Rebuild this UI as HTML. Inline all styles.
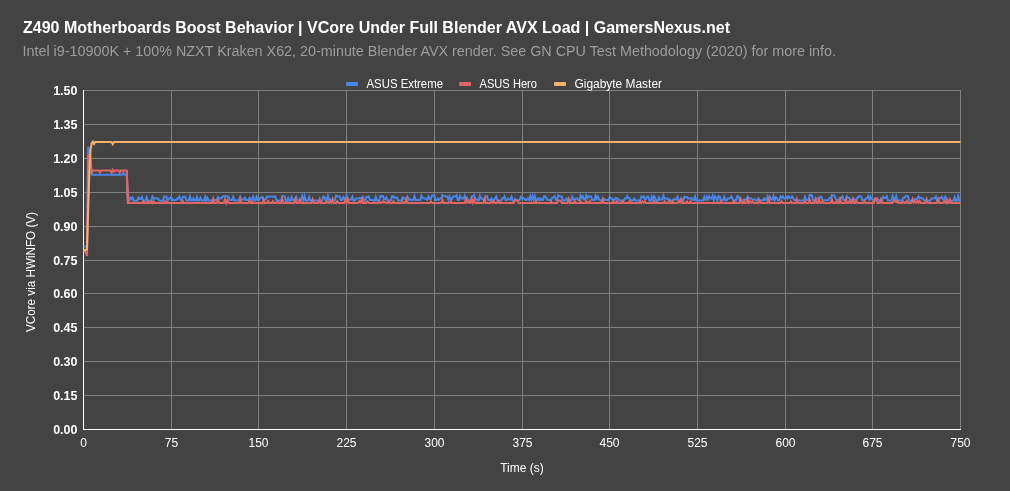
<!DOCTYPE html><html><head><meta charset="utf-8"><style>html,body{margin:0;padding:0;background:#434343;overflow:hidden}svg{display:block;will-change:transform}text{font-family:"Liberation Sans",sans-serif}</style></head><body><svg width="1010" height="491" viewBox="0 0 1010 491"><rect width="1010" height="491" fill="#434343"/><g stroke="#808080" stroke-width="1" shape-rendering="crispEdges"><line x1="83" y1="90.5" x2="961" y2="90.5"/><line x1="83" y1="124.5" x2="961" y2="124.5"/><line x1="83" y1="158.5" x2="961" y2="158.5"/><line x1="83" y1="192.5" x2="961" y2="192.5"/><line x1="83" y1="226.5" x2="961" y2="226.5"/><line x1="83" y1="260.5" x2="961" y2="260.5"/><line x1="83" y1="293.5" x2="961" y2="293.5"/><line x1="83" y1="327.5" x2="961" y2="327.5"/><line x1="83" y1="361.5" x2="961" y2="361.5"/><line x1="83" y1="395.5" x2="961" y2="395.5"/><line x1="171.5" y1="90" x2="171.5" y2="430"/><line x1="258.5" y1="90" x2="258.5" y2="430"/><line x1="346.5" y1="90" x2="346.5" y2="430"/><line x1="434.5" y1="90" x2="434.5" y2="430"/><line x1="522.5" y1="90" x2="522.5" y2="430"/><line x1="609.5" y1="90" x2="609.5" y2="430"/><line x1="697.5" y1="90" x2="697.5" y2="430"/><line x1="785.5" y1="90" x2="785.5" y2="430"/><line x1="872.5" y1="90" x2="872.5" y2="430"/><line x1="960.5" y1="90" x2="960.5" y2="430"/></g><g stroke="#ffffff" stroke-width="1" shape-rendering="crispEdges"><line x1="83.5" y1="90" x2="83.5" y2="430"/><line x1="83" y1="429.5" x2="961" y2="429.5"/></g><g font-size="12.5" font-weight="bold" fill="#ffffff" text-anchor="end"><text x="77.5" y="94.5">1.50</text><text x="77.5" y="128.5">1.35</text><text x="77.5" y="162.5">1.20</text><text x="77.5" y="196.5">1.05</text><text x="77.5" y="230.5">0.90</text><text x="77.5" y="264.5">0.75</text><text x="77.5" y="297.5">0.60</text><text x="77.5" y="331.5">0.45</text><text x="77.5" y="365.5">0.30</text><text x="77.5" y="399.5">0.15</text><text x="77.5" y="433.5">0.00</text></g><g font-size="12" fill="#ffffff" text-anchor="middle"><text x="83.5" y="447">0</text><text x="171.5" y="447">75</text><text x="258.5" y="447">150</text><text x="346.5" y="447">225</text><text x="434.5" y="447">300</text><text x="522.5" y="447">375</text><text x="609.5" y="447">450</text><text x="697.5" y="447">525</text><text x="785.5" y="447">600</text><text x="872.5" y="447">675</text><text x="960.5" y="447">750</text></g><text x="23" y="33" font-size="16" font-weight="bold" fill="#ffffff" textLength="707" lengthAdjust="spacingAndGlyphs">Z490 Motherboards Boost Behavior | VCore Under Full Blender AVX Load | GamersNexus.net</text><text x="22.5" y="56" font-size="14" fill="#9e9e9e" textLength="813.5" lengthAdjust="spacingAndGlyphs">Intel i9-10900K + 100% NZXT Kraken X62, 20-minute Blender AVX render. See GN CPU Test Methodology (2020) for more info.</text><rect x="346" y="82" width="12" height="4" rx="1" fill="#4a86e8"/><text x="366.5" y="88" font-size="12" fill="#ffffff" textLength="76.5" lengthAdjust="spacingAndGlyphs">ASUS Extreme</text><rect x="459" y="82" width="12" height="4" rx="1" fill="#e06666"/><text x="479.5" y="88" font-size="12" fill="#ffffff" textLength="57.5" lengthAdjust="spacingAndGlyphs">ASUS Hero</text><rect x="554" y="82" width="12" height="4" rx="1" fill="#f6b26b"/><text x="574.5" y="88" font-size="12" fill="#ffffff" textLength="87.5" lengthAdjust="spacingAndGlyphs">Gigabyte Master</text><text x="522" y="472" font-size="12" fill="#ffffff" text-anchor="middle">Time (s)</text><text transform="translate(35 272) rotate(-90)" x="0" y="0" font-size="12" fill="#ffffff" text-anchor="middle" textLength="120" lengthAdjust="spacingAndGlyphs">VCore via HWiNFO (V)</text><g><path d="M83.50,246.50 L84.67,246.50 L85.84,246.50 L87.01,246.00 L88.18,146.70 L89.35,151.00 L90.52,163.00 L91.69,174.80 L92.85,174.80 L94.02,174.80 L95.19,174.80 L96.36,174.80 L97.53,174.80 L98.70,174.80 L99.87,174.80 L101.04,174.80 L102.21,174.80 L103.38,174.80 L104.55,174.80 L105.72,174.80 L106.89,174.80 L108.06,174.80 L109.23,174.80 L110.39,174.80 L111.56,174.80 L112.73,174.80 L113.90,174.80 L115.07,174.80 L116.24,174.80 L117.41,174.80 L118.58,174.80 L119.75,174.80 L120.92,174.80 L122.09,174.80 L123.26,172.80 L124.43,174.80 L125.60,174.80 L126.77,174.80 L127.93,200.70 L129.10,200.70" fill="none" stroke="#4a86e8" stroke-width="2" stroke-linejoin="miter" stroke-miterlimit="4.0"/><path d="M126.77,174.80 L127.93,200.70 L129.10,200.70 L130.27,197.60 L131.44,199.10 L132.61,197.60 L133.78,200.70 L134.95,200.70 L136.12,200.70 L137.29,200.70 L138.46,197.55 L139.63,199.00 L140.80,199.00 L141.97,197.00 L143.14,200.70 L144.31,200.70 L145.47,200.70 L146.64,197.30 L147.81,200.70 L148.98,200.70 L150.15,200.70 L151.32,200.70 L152.49,196.55 L153.66,198.50 L154.83,198.50 L156.00,198.50 L157.17,198.50 L158.34,198.50 L159.51,200.87 L160.68,200.87 L161.85,200.87 L163.01,200.87 L164.18,196.42 L165.35,196.42 L166.52,196.42 L167.69,200.87 L168.86,198.40 L170.03,198.40 L171.20,196.75 L172.37,199.88 L173.54,199.88 L174.71,200.13 L175.88,200.13 L177.05,198.40 L178.22,198.40 L179.39,196.60 L180.55,199.88 L181.72,199.88 L182.89,196.66 L184.06,196.66 L185.23,196.66 L186.40,200.62 L187.57,200.62 L188.74,200.62 L189.91,196.17 L191.08,200.62 L192.25,200.62 L193.42,198.27 L194.59,200.62 L195.76,200.62 L196.93,196.83 L198.09,200.38 L199.26,200.38 L200.43,197.88 L201.60,200.38 L202.77,200.38 L203.94,200.38 L205.11,196.88 L206.28,200.87 L207.45,197.78 L208.62,200.38 L209.79,200.38 L210.96,200.38 L212.13,199.88 L213.30,199.88 L214.47,199.88 L215.63,199.88 L216.80,199.88 L217.97,196.95 L219.14,198.40 L220.31,198.40 L221.48,198.40 L222.65,196.17 L223.82,196.17 L224.99,196.17 L226.16,196.17 L227.33,196.42 L228.50,196.42 L229.67,199.88 L230.84,199.88 L232.01,199.88 L233.17,196.73 L234.34,200.38 L235.51,200.38 L236.68,200.38 L237.85,199.88 L239.02,199.88 L240.19,196.79 L241.36,199.39 L242.53,199.39 L243.70,199.39 L244.87,197.64 L246.04,199.88 L247.21,199.88 L248.38,199.88 L249.55,197.64 L250.71,199.39 L251.88,199.39 L253.05,196.64 L254.22,200.38 L255.39,200.38 L256.56,196.73 L257.73,199.88 L258.90,199.88 L260.07,197.90 L261.24,197.90 L262.41,197.00 L263.58,199.39 L264.75,199.39 L265.92,199.39 L267.09,196.36 L268.25,196.66 L269.42,196.66 L270.59,196.66 L271.76,196.21 L272.93,196.66 L274.10,196.66 L275.27,196.42 L276.44,200.38 L277.61,200.38 L278.78,200.38 L279.95,200.38 L281.12,200.38 L282.29,195.92 L283.46,196.17 L284.63,196.17 L285.79,201.12 L286.96,201.12 L288.13,197.87 L289.30,200.87 L290.47,200.87 L291.64,197.13 L292.81,199.88 L293.98,199.88 L295.15,199.88 L296.32,197.08 L297.49,200.38 L298.66,200.38 L299.83,200.38 L301.00,200.38 L302.17,196.18 L303.33,200.87 L304.50,196.18 L305.67,200.38 L306.84,200.38 L308.01,200.38 L309.18,196.98 L310.35,200.38 L311.52,200.38 L312.69,200.38 L313.86,200.38 L315.03,200.38 L316.20,200.38 L317.37,200.38 L318.54,200.87 L319.71,200.87 L320.87,200.87 L322.04,200.87 L323.21,196.66 L324.38,196.66 L325.55,199.88 L326.72,199.88 L327.89,195.83 L329.06,200.38 L330.23,199.33 L331.40,200.38 L332.57,200.38 L333.74,200.38 L334.91,200.38 L336.08,195.57 L337.25,196.42 L338.41,196.42 L339.58,196.37 L340.75,199.88 L341.92,199.88 L343.09,197.29 L344.26,199.39 L345.43,199.39 L346.60,195.49 L347.77,199.39 L348.94,199.39 L350.11,199.39 L351.28,199.39 L352.45,196.69 L353.62,200.87 L354.79,200.87 L355.95,198.40 L357.12,198.40 L358.29,198.40 L359.46,198.15 L360.63,198.15 L361.80,198.15 L362.97,196.95 L364.14,200.87 L365.31,200.87 L366.48,196.66 L367.65,196.66 L368.82,196.42 L369.99,199.88 L371.16,199.88 L372.33,199.73 L373.49,200.87 L374.66,200.87 L375.83,196.88 L377.00,200.38 L378.17,200.38 L379.34,200.38 L380.51,195.87 L381.68,195.92 L382.85,195.92 L384.02,199.39 L385.19,199.39 L386.36,197.54 L387.53,200.38 L388.70,200.38 L389.87,200.38 L391.03,200.38 L392.20,196.12 L393.37,196.17 L394.54,197.90 L395.71,197.90 L396.88,197.40 L398.05,200.38 L399.22,200.38 L400.39,200.38 L401.56,200.38 L402.73,197.39 L403.90,198.64 L405.07,198.64 L406.24,198.64 L407.41,196.64 L408.57,199.88 L409.74,198.83 L410.91,199.88 L412.08,199.88 L413.25,199.88 L414.42,195.98 L415.59,199.88 L416.76,199.88 L417.93,199.88 L419.10,199.88 L420.27,199.88 L421.44,195.65 L422.61,198.15 L423.78,198.15 L424.95,198.64 L426.11,198.64 L427.28,199.88 L428.45,196.49 L429.62,198.89 L430.79,198.89 L431.96,195.43 L433.13,195.43 L434.30,195.43 L435.47,199.88 L436.64,199.88 L437.81,198.48 L438.98,199.88 L440.15,198.40 L441.32,198.40 L442.49,195.12 L443.65,196.17 L444.82,196.17 L445.99,196.42 L447.16,196.42 L448.33,199.88 L449.50,196.59 L450.67,199.39 L451.84,199.39 L453.01,196.42 L454.18,196.42 L455.35,196.42 L456.52,195.22 L457.69,199.88 L458.86,199.88 L460.03,196.05 L461.19,198.40 L462.36,198.40 L463.53,198.40 L464.70,195.70 L465.87,199.88 L467.04,197.78 L468.21,200.38 L469.38,200.38 L470.55,200.38 L471.72,196.42 L472.89,196.42 L474.06,195.17 L475.23,198.89 L476.40,198.89 L477.57,200.38 L478.73,200.38 L479.90,195.75 L481.07,198.40 L482.24,198.40 L483.41,199.88 L484.58,199.88 L485.75,195.92 L486.92,196.17 L488.09,199.88 L489.26,199.88 L490.43,199.88 L491.60,198.48 L492.77,199.88 L493.94,199.88 L495.11,198.40 L496.27,196.65 L497.44,200.87 L498.61,200.87 L499.78,200.87 L500.95,200.87 L502.12,198.40 L503.29,198.40 L504.46,196.40 L505.63,199.88 L506.80,199.88 L507.97,198.39 L509.14,199.39 L510.31,199.39 L511.48,196.89 L512.65,200.87 L513.81,200.87 L514.98,198.93 L516.15,199.88 L517.32,199.88 L518.49,199.88 L519.66,199.88 L520.83,196.75 L522.00,198.40 L523.17,198.40 L524.34,198.40 L525.51,199.88 L526.68,199.88 L527.85,198.48 L529.02,199.88 L530.19,196.13 L531.35,199.88 L532.52,195.98 L533.69,199.88 L534.86,195.98 L536.03,199.88 L537.20,199.88 L538.37,198.53 L539.54,200.38 L540.71,198.53 L541.88,199.88 L543.05,199.88 L544.22,196.17 L545.39,196.17 L546.56,198.40 L547.73,199.88 L548.89,199.88 L550.06,199.88 L551.23,199.88 L552.40,197.41 L553.57,197.41 L554.74,196.16 L555.91,199.88 L557.08,199.88 L558.25,195.32 L559.42,196.17 L560.59,196.42 L561.76,196.42 L562.93,200.38 L564.10,200.38 L565.27,200.38 L566.43,198.58 L567.60,200.38 L568.77,200.38 L569.94,200.38 L571.11,200.38 L572.28,196.64 L573.45,199.39 L574.62,199.39 L575.79,198.40 L576.96,198.40 L578.13,199.88 L579.30,199.88 L580.47,195.40 L581.64,197.90 L582.81,196.25 L583.97,199.39 L585.14,199.39 L586.31,195.40 L587.48,197.90 L588.65,196.17 L589.82,196.42 L590.99,196.42 L592.16,199.88 L593.33,199.88 L594.50,199.88 L595.67,195.64 L596.84,198.89 L598.01,196.44 L599.18,199.39 L600.35,200.38 L601.51,200.38 L602.68,200.38 L603.85,198.88 L605.02,199.88 L606.19,199.88 L607.36,199.88 L608.53,199.88 L609.70,196.75 L610.87,198.40 L612.04,198.40 L613.21,199.88 L614.38,199.88 L615.55,198.15 L616.72,198.40 L617.89,198.40 L619.05,200.38 L620.22,200.38 L621.39,200.38 L622.56,200.38 L623.73,200.38 L624.90,198.40 L626.07,198.40 L627.24,196.05 L628.41,198.40 L629.58,198.10 L630.75,200.38 L631.92,200.38 L633.09,200.38 L634.26,198.43 L635.43,200.38 L636.59,200.38 L637.76,200.38 L638.93,200.38 L640.10,200.38 L641.27,196.56 L642.44,197.41 L643.61,196.31 L644.78,198.89 L645.95,198.89 L647.12,196.42 L648.29,196.42 L649.46,200.87 L650.63,200.87 L651.80,196.78 L652.97,199.88 L654.13,196.25 L655.30,198.40 L656.47,201.37 L657.64,201.37 L658.81,197.44 L659.98,199.39 L661.15,199.39 L662.32,199.39 L663.49,195.65 L664.66,198.40 L665.83,198.40 L667.00,198.40 L668.17,199.88 L669.34,199.28 L670.51,200.38 L671.67,200.38 L672.84,200.38 L674.01,198.84 L675.18,199.39 L676.35,199.39 L677.52,196.64 L678.69,200.38 L679.86,200.38 L681.03,200.38 L682.20,199.33 L683.37,200.38 L684.54,196.86 L685.71,196.91 L686.88,196.91 L688.05,198.40 L689.21,198.40 L690.38,198.40 L691.55,198.05 L692.72,199.88 L693.89,199.88 L695.06,196.38 L696.23,200.38 L697.40,200.38 L698.57,200.38 L699.74,200.38 L700.91,200.38 L702.08,200.38 L703.25,200.38 L704.42,196.84 L705.59,199.39 L706.75,196.54 L707.92,199.39 L709.09,196.35 L710.26,198.40 L711.43,198.40 L712.60,195.75 L713.77,200.38 L714.94,196.30 L716.11,197.90 L717.28,200.38 L718.45,196.17 L719.62,196.42 L720.79,199.88 L721.96,199.88 L723.13,199.88 L724.29,196.73 L725.46,200.38 L726.63,200.38 L727.80,198.40 L728.97,198.40 L730.14,197.90 L731.31,196.15 L732.48,198.40 L733.65,200.38 L734.82,200.38 L735.99,200.38 L737.16,196.17 L738.33,196.17 L739.50,200.38 L740.67,200.38 L741.83,200.38 L743.00,200.38 L744.17,199.39 L745.34,199.39 L746.51,199.39 L747.68,196.55 L748.85,198.40 L750.02,198.40 L751.19,198.40 L752.36,199.39 L753.53,199.39 L754.70,199.34 L755.87,200.38 L757.04,200.38 L758.21,198.43 L759.37,200.38 L760.54,200.38 L761.71,200.38 L762.88,200.38 L764.05,198.53 L765.22,199.88 L766.39,199.88 L767.56,196.53 L768.73,200.38 L769.90,196.84 L771.07,199.39 L772.24,199.39 L773.41,195.94 L774.58,200.38 L775.75,197.20 L776.91,197.90 L778.08,200.38 L779.25,200.38 L780.42,196.50 L781.59,197.90 L782.76,196.15 L783.93,198.40 L785.10,198.40 L786.27,197.00 L787.44,198.40 L788.61,196.35 L789.78,197.90 L790.95,197.90 L792.12,196.35 L793.29,198.40 L794.45,199.88 L795.62,199.88 L796.79,200.38 L797.96,200.38 L799.13,200.38 L800.30,200.38 L801.47,200.38 L802.64,200.38 L803.81,200.38 L804.98,196.73 L806.15,199.88 L807.32,199.88 L808.49,199.88 L809.66,195.13 L810.83,195.18 L811.99,195.18 L813.16,200.38 L814.33,200.38 L815.50,200.38 L816.67,198.40 L817.84,198.40 L819.01,198.40 L820.18,196.86 L821.35,196.91 L822.52,200.13 L823.69,200.13 L824.86,200.13 L826.03,200.13 L827.20,200.13 L828.37,200.13 L829.53,197.90 L830.70,197.90 L831.87,195.18 L833.04,195.43 L834.21,195.43 L835.38,197.90 L836.55,199.88 L837.72,199.88 L838.89,199.88 L840.06,197.90 L841.23,197.90 L842.40,196.45 L843.57,199.88 L844.74,199.88 L845.91,199.88 L847.07,196.30 L848.24,197.90 L849.41,197.90 L850.58,199.88 L851.75,199.88 L852.92,199.88 L854.09,199.03 L855.26,199.88 L856.43,199.88 L857.60,197.90 L858.77,196.17 L859.94,196.42 L861.11,196.42 L862.28,200.13 L863.45,200.13 L864.61,200.13 L865.78,198.40 L866.95,198.40 L868.12,196.00 L869.29,199.39 L870.46,196.54 L871.63,199.39 L872.80,199.39 L873.97,200.38 L875.14,200.38 L876.31,200.38 L877.48,198.58 L878.65,200.38 L879.82,200.38 L880.99,200.38 L882.15,200.38 L883.32,196.65 L884.49,197.90 L885.66,197.90 L886.83,196.30 L888.00,200.38 L889.17,200.38 L890.34,200.38 L891.51,200.38 L892.68,195.94 L893.85,199.39 L895.02,199.39 L896.19,196.14 L897.36,200.38 L898.53,200.38 L899.69,200.38 L900.86,200.38 L902.03,200.38 L903.20,197.90 L904.37,197.90 L905.54,196.17 L906.71,196.17 L907.88,196.17 L909.05,200.80 L910.22,200.80 L911.39,200.80 L912.56,200.50 L913.73,200.50 L914.90,198.90 L916.07,198.90 L917.23,198.90 L918.40,196.35 L919.57,198.00 L920.74,198.00 L921.91,198.30 L923.08,198.30 L924.25,200.80 L925.42,200.80 L926.59,200.80 L927.76,200.80 L928.93,200.80 L930.10,200.80 L931.27,198.60 L932.44,198.60 L933.61,198.30 L934.77,198.30 L935.94,196.55 L937.11,200.80 L938.28,200.80 L939.45,198.30 L940.62,198.30 L941.79,196.70 L942.96,199.40 L944.13,199.40 L945.30,196.45 L946.47,198.30 L947.64,200.30 L948.81,200.30 L949.98,200.80 L951.15,200.80 L952.31,200.80 L953.48,200.80 L954.65,197.05 L955.82,200.80 L956.99,200.80 L958.16,196.05 L959.33,200.80 L960.50,200.80" fill="none" stroke="#4a86e8" stroke-width="2" stroke-linejoin="miter" stroke-miterlimit="10.0"/><path d="M83.50,250.00 L84.67,251.00 L85.84,253.00 L87.01,256.00 L88.18,156.00 L89.35,155.00 L90.52,156.00 L91.69,173.50 L92.85,170.50 L94.02,170.50 L95.19,170.50 L96.36,170.50 L97.53,170.50 L98.70,170.50 L99.87,172.30 L101.04,170.50 L102.21,170.50 L103.38,170.50 L104.55,170.50 L105.72,170.50 L106.89,170.50 L108.06,170.50 L109.23,170.50 L110.39,170.50 L111.56,172.60 L112.73,169.80 L113.90,171.60 L115.07,170.50 L116.24,170.50 L117.41,170.50 L118.58,170.50 L119.75,172.60 L120.92,170.50 L122.09,170.50 L123.26,170.50 L124.43,170.50 L125.60,170.50 L126.77,170.50 L127.93,203.00 L129.10,203.00" fill="none" stroke="#e06666" stroke-width="2" stroke-linejoin="miter" stroke-miterlimit="4.0"/><path d="M126.77,170.50 L127.93,203.00 L129.10,203.00 L130.27,203.00 L131.44,203.00 L132.61,203.00 L133.78,203.00 L134.95,203.00 L136.12,203.00 L137.29,203.00 L138.46,203.00 L139.63,203.00 L140.80,203.00 L141.97,203.00 L143.14,201.35 L144.31,203.00 L145.47,203.00 L146.64,203.00 L147.81,201.35 L148.98,203.00 L150.15,203.00 L151.32,201.50 L152.49,203.05 L153.66,201.25 L154.83,203.00 L156.00,203.00 L157.17,203.00 L158.34,203.00 L159.51,203.00 L160.68,203.00 L161.85,203.00 L163.01,203.00 L164.18,203.00 L165.35,201.15 L166.52,203.00 L167.69,203.00 L168.86,203.00 L170.03,203.00 L171.20,203.00 L172.37,203.00 L173.54,203.00 L174.71,203.00 L175.88,203.00 L177.05,203.00 L178.22,203.00 L179.39,203.00 L180.55,203.00 L181.72,203.00 L182.89,201.15 L184.06,203.00 L185.23,203.00 L186.40,203.00 L187.57,203.00 L188.74,203.00 L189.91,203.00 L191.08,203.00 L192.25,203.00 L193.42,203.00 L194.59,203.00 L195.76,203.00 L196.93,203.00 L198.09,203.00 L199.26,203.00 L200.43,203.00 L201.60,203.00 L202.77,203.00 L203.94,203.00 L205.11,203.00 L206.28,203.00 L207.45,203.00 L208.62,203.00 L209.79,203.00 L210.96,203.00 L212.13,203.00 L213.30,198.70 L214.47,203.00 L215.63,203.00 L216.80,203.00 L217.97,200.20 L219.14,203.00 L220.31,203.00 L221.48,203.00 L222.65,203.00 L223.82,203.00 L224.99,199.10 L226.16,203.00 L227.33,200.35 L228.50,203.00 L229.67,203.00 L230.84,203.00 L232.01,203.00 L233.17,203.00 L234.34,203.00 L235.51,203.00 L236.68,203.00 L237.85,203.00 L239.02,203.00 L240.19,199.00 L241.36,203.00 L242.53,203.00 L243.70,203.00 L244.87,203.00 L246.04,203.00 L247.21,203.00 L248.38,203.00 L249.55,200.90 L250.71,202.75 L251.88,201.40 L253.05,203.00 L254.22,203.00 L255.39,203.00 L256.56,203.00 L257.73,203.00 L258.90,203.00 L260.07,203.00 L261.24,203.00 L262.41,203.40 L263.58,199.55 L264.75,203.00 L265.92,203.00 L267.09,203.00 L268.25,201.15 L269.42,203.00 L270.59,203.00 L271.76,203.00 L272.93,201.15 L274.10,203.00 L275.27,203.00 L276.44,203.00 L277.61,201.30 L278.78,203.00 L279.95,203.00 L281.12,203.00 L282.29,199.00 L283.46,203.00 L284.63,203.00 L285.79,203.00 L286.96,203.00 L288.13,203.00 L289.30,203.00 L290.47,203.00 L291.64,203.00 L292.81,203.00 L293.98,203.00 L295.15,199.15 L296.32,203.00 L297.49,203.00 L298.66,203.00 L299.83,199.75 L301.00,203.00 L302.17,203.00 L303.33,203.00 L304.50,203.00 L305.67,203.00 L306.84,203.00 L308.01,203.00 L309.18,203.00 L310.35,203.00 L311.52,203.00 L312.69,199.30 L313.86,203.00 L315.03,203.00 L316.20,203.00 L317.37,203.00 L318.54,203.00 L319.71,199.15 L320.87,203.00 L322.04,203.00 L323.21,203.00 L324.38,203.00 L325.55,203.00 L326.72,201.30 L327.89,203.00 L329.06,203.00 L330.23,201.45 L331.40,202.90 L332.57,199.15 L333.74,203.00 L334.91,203.00 L336.08,203.00 L337.25,201.30 L338.41,203.00 L339.58,203.00 L340.75,203.00 L341.92,203.00 L343.09,203.00 L344.26,203.00 L345.43,199.00 L346.60,202.55 L347.77,199.05 L348.94,203.00 L350.11,203.00 L351.28,203.00 L352.45,203.00 L353.62,203.00 L354.79,203.00 L355.95,203.00 L357.12,203.00 L358.29,203.00 L359.46,201.20 L360.63,202.50 L361.80,199.05 L362.97,203.00 L364.14,203.00 L365.31,203.00 L366.48,203.00 L367.65,201.45 L368.82,203.00 L369.99,203.00 L371.16,203.00 L372.33,203.00 L373.49,203.00 L374.66,203.00 L375.83,203.00 L377.00,203.00 L378.17,203.00 L379.34,201.30 L380.51,203.00 L381.68,203.00 L382.85,201.20 L384.02,202.60 L385.19,202.05 L386.36,203.00 L387.53,203.15 L388.70,201.35 L389.87,203.00 L391.03,203.00 L392.20,203.00 L393.37,201.30 L394.54,203.00 L395.71,203.00 L396.88,203.00 L398.05,203.00 L399.22,203.00 L400.39,203.00 L401.56,203.00 L402.73,201.80 L403.90,203.00 L405.07,203.05 L406.24,199.05 L407.41,203.00 L408.57,203.00 L409.74,203.00 L410.91,203.00 L412.08,203.00 L413.25,203.00 L414.42,203.00 L415.59,203.00 L416.76,203.00 L417.93,203.00 L419.10,203.00 L420.27,203.00 L421.44,203.00 L422.61,203.00 L423.78,203.00 L424.95,203.00 L426.11,203.00 L427.28,203.00 L428.45,203.00 L429.62,203.00 L430.79,201.30 L431.96,203.00 L433.13,203.00 L434.30,203.00 L435.47,203.00 L436.64,203.00 L437.81,203.00 L438.98,203.00 L440.15,203.00 L441.32,203.00 L442.49,199.75 L443.65,203.00 L444.82,203.00 L445.99,203.00 L447.16,203.00 L448.33,203.00 L449.50,203.00 L450.67,201.15 L451.84,203.00 L453.01,203.00 L454.18,203.00 L455.35,203.00 L456.52,203.00 L457.69,203.00 L458.86,203.00 L460.03,203.00 L461.19,203.00 L462.36,203.00 L463.53,203.00 L464.70,203.00 L465.87,198.79 L467.04,202.39 L468.21,201.04 L469.38,203.00 L470.55,203.00 L471.72,198.90 L472.89,202.70 L474.06,199.85 L475.23,203.00 L476.40,203.00 L477.57,203.00 L478.73,203.00 L479.90,203.00 L481.07,203.00 L482.24,203.00 L483.41,203.00 L484.58,198.85 L485.75,203.00 L486.92,203.00 L488.09,203.00 L489.26,203.00 L490.43,203.00 L491.60,200.90 L492.77,202.70 L493.94,201.25 L495.11,203.00 L496.27,203.00 L497.44,203.00 L498.61,201.00 L499.78,203.00 L500.95,203.00 L502.12,203.00 L503.29,203.00 L504.46,203.00 L505.63,203.00 L506.80,203.00 L507.97,203.00 L509.14,203.00 L510.31,203.00 L511.48,203.00 L512.65,203.00 L513.81,203.00 L514.98,200.38 L516.15,200.38 L517.32,200.38 L518.49,203.00 L519.66,203.00 L520.83,203.00 L522.00,203.00 L523.17,203.00 L524.34,203.00 L525.51,203.00 L526.68,203.00 L527.85,203.00 L529.02,203.00 L530.19,203.00 L531.35,203.00 L532.52,203.00 L533.69,203.00 L534.86,203.00 L536.03,201.45 L537.20,203.00 L538.37,203.00 L539.54,203.00 L540.71,203.00 L541.88,203.00 L543.05,203.00 L544.22,203.00 L545.39,203.00 L546.56,203.00 L547.73,203.00 L548.89,203.00 L550.06,203.00 L551.23,201.45 L552.40,203.00 L553.57,203.00 L554.74,203.00 L555.91,203.00 L557.08,203.00 L558.25,200.62 L559.42,200.62 L560.59,200.62 L561.76,203.00 L562.93,203.00 L564.10,203.00 L565.27,203.00 L566.43,203.00 L567.60,203.00 L568.77,199.00 L569.94,203.00 L571.11,203.00 L572.28,203.00 L573.45,203.00 L574.62,201.15 L575.79,203.00 L576.96,203.00 L578.13,203.00 L579.30,203.00 L580.47,201.15 L581.64,203.00 L582.81,203.00 L583.97,203.00 L585.14,203.00 L586.31,201.15 L587.48,203.00 L588.65,203.00 L589.82,201.15 L590.99,203.00 L592.16,203.00 L593.33,203.00 L594.50,203.00 L595.67,203.00 L596.84,203.00 L598.01,203.00 L599.18,203.00 L600.35,203.00 L601.51,203.00 L602.68,199.00 L603.85,203.00 L605.02,203.00 L606.19,203.00 L607.36,203.00 L608.53,203.00 L609.70,203.00 L610.87,203.00 L612.04,203.00 L613.21,201.30 L614.38,203.00 L615.55,203.00 L616.72,201.15 L617.89,203.00 L619.05,203.00 L620.22,203.00 L621.39,203.00 L622.56,201.15 L623.73,203.00 L624.90,203.00 L626.07,203.00 L627.24,203.00 L628.41,203.00 L629.58,201.15 L630.75,203.00 L631.92,203.00 L633.09,203.00 L634.26,203.00 L635.43,203.00 L636.59,203.00 L637.76,203.00 L638.93,203.00 L640.10,201.40 L641.27,202.85 L642.44,201.40 L643.61,202.80 L644.78,201.45 L645.95,203.00 L647.12,203.00 L648.29,203.00 L649.46,203.00 L650.63,203.00 L651.80,203.00 L652.97,203.00 L654.13,201.30 L655.30,203.00 L656.47,203.00 L657.64,203.00 L658.81,203.00 L659.98,203.00 L661.15,203.00 L662.32,203.00 L663.49,203.00 L664.66,201.30 L665.83,203.00 L667.00,203.00 L668.17,203.00 L669.34,201.30 L670.51,203.00 L671.67,203.00 L672.84,201.45 L674.01,203.00 L675.18,203.00 L676.35,203.00 L677.52,203.00 L678.69,201.20 L679.86,202.50 L681.03,199.05 L682.20,203.00 L683.37,203.00 L684.54,203.00 L685.71,203.00 L686.88,201.45 L688.05,203.05 L689.21,203.00 L690.38,201.65 L691.55,203.00 L692.72,203.00 L693.89,203.00 L695.06,203.00 L696.23,203.00 L697.40,203.00 L698.57,203.00 L699.74,203.00 L700.91,203.00 L702.08,203.00 L703.25,203.00 L704.42,203.00 L705.59,203.00 L706.75,203.00 L707.92,203.00 L709.09,203.00 L710.26,203.00 L711.43,203.00 L712.60,203.00 L713.77,203.00 L714.94,203.00 L716.11,203.00 L717.28,203.00 L718.45,203.00 L719.62,203.00 L720.79,201.15 L721.96,203.00 L723.13,203.00 L724.29,203.00 L725.46,203.00 L726.63,203.00 L727.80,203.00 L728.97,203.00 L730.14,203.00 L731.31,203.00 L732.48,203.00 L733.65,201.15 L734.82,203.00 L735.99,203.00 L737.16,203.00 L738.33,203.00 L739.50,203.00 L740.67,199.00 L741.83,203.00 L743.00,203.00 L744.17,201.30 L745.34,203.00 L746.51,203.00 L747.68,198.93 L748.85,202.88 L750.02,201.38 L751.19,202.78 L752.36,201.28 L753.53,203.00 L754.70,203.00 L755.87,203.00 L757.04,203.00 L758.21,203.00 L759.37,200.20 L760.54,203.00 L761.71,203.00 L762.88,203.00 L764.05,203.00 L765.22,203.00 L766.39,203.00 L767.56,203.00 L768.73,199.15 L769.90,203.00 L771.07,203.00 L772.24,203.00 L773.41,203.00 L774.58,203.00 L775.75,203.00 L776.91,203.00 L778.08,203.00 L779.25,203.00 L780.42,203.00 L781.59,201.30 L782.76,203.00 L783.93,203.00 L785.10,203.00 L786.27,203.00 L787.44,203.00 L788.61,203.00 L789.78,203.00 L790.95,201.45 L792.12,203.00 L793.29,203.00 L794.45,203.00 L795.62,203.00 L796.79,199.00 L797.96,203.00 L799.13,203.00 L800.30,203.00 L801.47,203.00 L802.64,203.00 L803.81,203.00 L804.98,201.45 L806.15,203.00 L807.32,203.00 L808.49,203.00 L809.66,199.45 L810.83,203.00 L811.99,203.00 L813.16,203.00 L814.33,203.00 L815.50,199.15 L816.67,203.00 L817.84,203.00 L819.01,199.15 L820.18,203.00 L821.35,203.00 L822.52,201.30 L823.69,203.00 L824.86,203.00 L826.03,203.00 L827.20,203.00 L828.37,203.00 L829.53,203.00 L830.70,203.00 L831.87,199.00 L833.04,203.00 L834.21,203.00 L835.38,203.00 L836.55,201.15 L837.72,203.00 L838.89,203.00 L840.06,199.00 L841.23,203.00 L842.40,203.00 L843.57,203.00 L844.74,203.00 L845.91,199.15 L847.07,203.00 L848.24,203.00 L849.41,201.15 L850.58,203.00 L851.75,203.00 L852.92,199.00 L854.09,203.00 L855.26,203.00 L856.43,201.15 L857.60,203.00 L858.77,203.00 L859.94,203.00 L861.11,203.00 L862.28,203.00 L863.45,203.00 L864.61,201.30 L865.78,203.00 L866.95,203.00 L868.12,203.00 L869.29,203.00 L870.46,203.00 L871.63,203.00 L872.80,203.00 L873.97,203.00 L875.14,198.35 L876.31,198.40 L877.48,203.00 L878.65,203.00 L879.82,203.00 L880.99,199.15 L882.15,203.00 L883.32,203.00 L884.49,203.00 L885.66,203.00 L886.83,203.00 L888.00,203.00 L889.17,203.00 L890.34,203.00 L891.51,203.00 L892.68,203.00 L893.85,200.62 L895.02,200.62 L896.19,202.32 L897.36,201.17 L898.53,203.00 L899.69,203.00 L900.86,203.00 L902.03,203.00 L903.20,201.45 L904.37,203.00 L905.54,203.00 L906.71,201.15 L907.88,203.00 L909.05,203.00 L910.22,203.00 L911.39,203.00 L912.56,199.00 L913.73,202.50 L914.90,201.15 L916.07,202.60 L917.23,201.00 L918.40,202.65 L919.57,200.95 L920.74,203.00 L921.91,203.00 L923.08,203.00 L924.25,203.00 L925.42,203.00 L926.59,199.20 L927.76,203.00 L928.93,203.00 L930.10,203.00 L931.27,203.00 L932.44,203.00 L933.61,203.00 L934.77,203.00 L935.94,203.00 L937.11,203.00 L938.28,199.20 L939.45,203.00 L940.62,203.00 L941.79,203.00 L942.96,203.00 L944.13,201.30 L945.30,202.75 L946.47,199.65 L947.64,203.25 L948.81,203.00 L949.98,199.65 L951.15,203.00 L952.31,203.00 L953.48,203.00 L954.65,203.00 L955.82,203.00 L956.99,203.00 L958.16,203.00 L959.33,203.00 L960.50,203.00" fill="none" stroke="#e06666" stroke-width="2" stroke-linejoin="miter" stroke-miterlimit="10.0"/><path d="M83.50,251.00 L84.67,250.00 L85.84,250.00 L87.01,249.00 L88.18,210.00 L89.35,172.00 L90.52,150.00 L91.69,143.00 L92.85,141.80 L94.02,144.00 L95.19,142.00 L96.36,142.00 L97.53,142.00 L98.70,142.00 L99.87,142.00 L101.04,142.00 L102.21,142.00 L103.38,142.00 L104.55,142.00 L105.72,142.00 L106.89,142.00 L108.06,142.00 L109.23,142.00 L110.39,142.00 L111.56,142.00 L112.73,144.20 L113.90,142.00 L115.07,142.00 L116.24,142.00 L117.41,142.00 L118.58,142.00 L119.75,142.00 L120.92,142.00 L122.09,142.00 L123.26,142.00 L124.43,142.00 L125.60,142.00 L126.77,142.00 L127.93,142.00 L129.10,142.00" fill="none" stroke="#f6b26b" stroke-width="2" stroke-linejoin="miter" stroke-miterlimit="4.0"/><path d="M126.77,142.00 L127.93,142.00 L129.10,142.00 L130.27,142.00 L131.44,142.00 L132.61,142.00 L133.78,142.00 L134.95,142.00 L136.12,142.00 L137.29,142.00 L138.46,142.00 L139.63,142.00 L140.80,142.00 L141.97,142.00 L143.14,142.00 L144.31,142.00 L145.47,142.00 L146.64,142.00 L147.81,142.00 L148.98,142.00 L150.15,142.00 L151.32,142.00 L152.49,142.00 L153.66,142.00 L154.83,142.00 L156.00,142.00 L157.17,142.00 L158.34,142.00 L159.51,142.00 L160.68,142.00 L161.85,142.00 L163.01,142.00 L164.18,142.00 L165.35,142.00 L166.52,142.00 L167.69,142.00 L168.86,142.00 L170.03,142.00 L171.20,142.00 L172.37,142.00 L173.54,142.00 L174.71,142.00 L175.88,142.00 L177.05,142.00 L178.22,142.00 L179.39,142.00 L180.55,142.00 L181.72,142.00 L182.89,142.00 L184.06,142.00 L185.23,142.00 L186.40,142.00 L187.57,142.00 L188.74,142.00 L189.91,142.00 L191.08,142.00 L192.25,142.00 L193.42,142.00 L194.59,142.00 L195.76,142.00 L196.93,142.00 L198.09,142.00 L199.26,142.00 L200.43,142.00 L201.60,142.00 L202.77,142.00 L203.94,142.00 L205.11,142.00 L206.28,142.00 L207.45,142.00 L208.62,142.00 L209.79,142.00 L210.96,142.00 L212.13,142.00 L213.30,142.00 L214.47,142.00 L215.63,142.00 L216.80,142.00 L217.97,142.00 L219.14,142.00 L220.31,142.00 L221.48,142.00 L222.65,142.00 L223.82,142.00 L224.99,142.00 L226.16,142.00 L227.33,142.00 L228.50,142.00 L229.67,142.00 L230.84,142.00 L232.01,142.00 L233.17,142.00 L234.34,142.00 L235.51,142.00 L236.68,142.00 L237.85,142.00 L239.02,142.00 L240.19,142.00 L241.36,142.00 L242.53,142.00 L243.70,142.00 L244.87,142.00 L246.04,142.00 L247.21,142.00 L248.38,142.00 L249.55,142.00 L250.71,142.00 L251.88,142.00 L253.05,142.00 L254.22,142.00 L255.39,142.00 L256.56,142.00 L257.73,142.00 L258.90,142.00 L260.07,142.00 L261.24,142.00 L262.41,142.00 L263.58,142.00 L264.75,142.00 L265.92,142.00 L267.09,142.00 L268.25,142.00 L269.42,142.00 L270.59,142.00 L271.76,142.00 L272.93,142.00 L274.10,142.00 L275.27,142.00 L276.44,142.00 L277.61,142.00 L278.78,142.00 L279.95,142.00 L281.12,142.00 L282.29,142.00 L283.46,142.00 L284.63,142.00 L285.79,142.00 L286.96,142.00 L288.13,142.00 L289.30,142.00 L290.47,142.00 L291.64,142.00 L292.81,142.00 L293.98,142.00 L295.15,142.00 L296.32,142.00 L297.49,142.00 L298.66,142.00 L299.83,142.00 L301.00,142.00 L302.17,142.00 L303.33,142.00 L304.50,142.00 L305.67,142.00 L306.84,142.00 L308.01,142.00 L309.18,142.00 L310.35,142.00 L311.52,142.00 L312.69,142.00 L313.86,142.00 L315.03,142.00 L316.20,142.00 L317.37,142.00 L318.54,142.00 L319.71,142.00 L320.87,142.00 L322.04,142.00 L323.21,142.00 L324.38,142.00 L325.55,142.00 L326.72,142.00 L327.89,142.00 L329.06,142.00 L330.23,142.00 L331.40,142.00 L332.57,142.00 L333.74,142.00 L334.91,142.00 L336.08,142.00 L337.25,142.00 L338.41,142.00 L339.58,142.00 L340.75,142.00 L341.92,142.00 L343.09,142.00 L344.26,142.00 L345.43,142.00 L346.60,142.00 L347.77,142.00 L348.94,142.00 L350.11,142.00 L351.28,142.00 L352.45,142.00 L353.62,142.00 L354.79,142.00 L355.95,142.00 L357.12,142.00 L358.29,142.00 L359.46,142.00 L360.63,142.00 L361.80,142.00 L362.97,142.00 L364.14,142.00 L365.31,142.00 L366.48,142.00 L367.65,142.00 L368.82,142.00 L369.99,142.00 L371.16,142.00 L372.33,142.00 L373.49,142.00 L374.66,142.00 L375.83,142.00 L377.00,142.00 L378.17,142.00 L379.34,142.00 L380.51,142.00 L381.68,142.00 L382.85,142.00 L384.02,142.00 L385.19,142.00 L386.36,142.00 L387.53,142.00 L388.70,142.00 L389.87,142.00 L391.03,142.00 L392.20,142.00 L393.37,142.00 L394.54,142.00 L395.71,142.00 L396.88,142.00 L398.05,142.00 L399.22,142.00 L400.39,142.00 L401.56,142.00 L402.73,142.00 L403.90,142.00 L405.07,142.00 L406.24,142.00 L407.41,142.00 L408.57,142.00 L409.74,142.00 L410.91,142.00 L412.08,142.00 L413.25,142.00 L414.42,142.00 L415.59,142.00 L416.76,142.00 L417.93,142.00 L419.10,142.00 L420.27,142.00 L421.44,142.00 L422.61,142.00 L423.78,142.00 L424.95,142.00 L426.11,142.00 L427.28,142.00 L428.45,142.00 L429.62,142.00 L430.79,142.00 L431.96,142.00 L433.13,142.00 L434.30,142.00 L435.47,142.00 L436.64,142.00 L437.81,142.00 L438.98,142.00 L440.15,142.00 L441.32,142.00 L442.49,142.00 L443.65,142.00 L444.82,142.00 L445.99,142.00 L447.16,142.00 L448.33,142.00 L449.50,142.00 L450.67,142.00 L451.84,142.00 L453.01,142.00 L454.18,142.00 L455.35,142.00 L456.52,142.00 L457.69,142.00 L458.86,142.00 L460.03,142.00 L461.19,142.00 L462.36,142.00 L463.53,142.00 L464.70,142.00 L465.87,142.00 L467.04,142.00 L468.21,142.00 L469.38,142.00 L470.55,142.00 L471.72,142.00 L472.89,142.00 L474.06,142.00 L475.23,142.00 L476.40,142.00 L477.57,142.00 L478.73,142.00 L479.90,142.00 L481.07,142.00 L482.24,142.00 L483.41,142.00 L484.58,142.00 L485.75,142.00 L486.92,142.00 L488.09,142.00 L489.26,142.00 L490.43,142.00 L491.60,142.00 L492.77,142.00 L493.94,142.00 L495.11,142.00 L496.27,142.00 L497.44,142.00 L498.61,142.00 L499.78,142.00 L500.95,142.00 L502.12,142.00 L503.29,142.00 L504.46,142.00 L505.63,142.00 L506.80,142.00 L507.97,142.00 L509.14,142.00 L510.31,142.00 L511.48,142.00 L512.65,142.00 L513.81,142.00 L514.98,142.00 L516.15,142.00 L517.32,142.00 L518.49,142.00 L519.66,142.00 L520.83,142.00 L522.00,142.00 L523.17,142.00 L524.34,142.00 L525.51,142.00 L526.68,142.00 L527.85,142.00 L529.02,142.00 L530.19,142.00 L531.35,142.00 L532.52,142.00 L533.69,142.00 L534.86,142.00 L536.03,142.00 L537.20,142.00 L538.37,142.00 L539.54,142.00 L540.71,142.00 L541.88,142.00 L543.05,142.00 L544.22,142.00 L545.39,142.00 L546.56,142.00 L547.73,142.00 L548.89,142.00 L550.06,142.00 L551.23,142.00 L552.40,142.00 L553.57,142.00 L554.74,142.00 L555.91,142.00 L557.08,142.00 L558.25,142.00 L559.42,142.00 L560.59,142.00 L561.76,142.00 L562.93,142.00 L564.10,142.00 L565.27,142.00 L566.43,142.00 L567.60,142.00 L568.77,142.00 L569.94,142.00 L571.11,142.00 L572.28,142.00 L573.45,142.00 L574.62,142.00 L575.79,142.00 L576.96,142.00 L578.13,142.00 L579.30,142.00 L580.47,142.00 L581.64,142.00 L582.81,142.00 L583.97,142.00 L585.14,142.00 L586.31,142.00 L587.48,142.00 L588.65,142.00 L589.82,142.00 L590.99,142.00 L592.16,142.00 L593.33,142.00 L594.50,142.00 L595.67,142.00 L596.84,142.00 L598.01,142.00 L599.18,142.00 L600.35,142.00 L601.51,142.00 L602.68,142.00 L603.85,142.00 L605.02,142.00 L606.19,142.00 L607.36,142.00 L608.53,142.00 L609.70,142.00 L610.87,142.00 L612.04,142.00 L613.21,142.00 L614.38,142.00 L615.55,142.00 L616.72,142.00 L617.89,142.00 L619.05,142.00 L620.22,142.00 L621.39,142.00 L622.56,142.00 L623.73,142.00 L624.90,142.00 L626.07,142.00 L627.24,142.00 L628.41,142.00 L629.58,142.00 L630.75,142.00 L631.92,142.00 L633.09,142.00 L634.26,142.00 L635.43,142.00 L636.59,142.00 L637.76,142.00 L638.93,142.00 L640.10,142.00 L641.27,142.00 L642.44,142.00 L643.61,142.00 L644.78,142.00 L645.95,142.00 L647.12,142.00 L648.29,142.00 L649.46,142.00 L650.63,142.00 L651.80,142.00 L652.97,142.00 L654.13,142.00 L655.30,142.00 L656.47,142.00 L657.64,142.00 L658.81,142.00 L659.98,142.00 L661.15,142.00 L662.32,142.00 L663.49,142.00 L664.66,142.00 L665.83,142.00 L667.00,142.00 L668.17,142.00 L669.34,142.00 L670.51,142.00 L671.67,142.00 L672.84,142.00 L674.01,142.00 L675.18,142.00 L676.35,142.00 L677.52,142.00 L678.69,142.00 L679.86,142.00 L681.03,142.00 L682.20,142.00 L683.37,142.00 L684.54,142.00 L685.71,142.00 L686.88,142.00 L688.05,142.00 L689.21,142.00 L690.38,142.00 L691.55,142.00 L692.72,142.00 L693.89,142.00 L695.06,142.00 L696.23,142.00 L697.40,142.00 L698.57,142.00 L699.74,142.00 L700.91,142.00 L702.08,142.00 L703.25,142.00 L704.42,142.00 L705.59,142.00 L706.75,142.00 L707.92,142.00 L709.09,142.00 L710.26,142.00 L711.43,142.00 L712.60,142.00 L713.77,142.00 L714.94,142.00 L716.11,142.00 L717.28,142.00 L718.45,142.00 L719.62,142.00 L720.79,142.00 L721.96,142.00 L723.13,142.00 L724.29,142.00 L725.46,142.00 L726.63,142.00 L727.80,142.00 L728.97,142.00 L730.14,142.00 L731.31,142.00 L732.48,142.00 L733.65,142.00 L734.82,142.00 L735.99,142.00 L737.16,142.00 L738.33,142.00 L739.50,142.00 L740.67,142.00 L741.83,142.00 L743.00,142.00 L744.17,142.00 L745.34,142.00 L746.51,142.00 L747.68,142.00 L748.85,142.00 L750.02,142.00 L751.19,142.00 L752.36,142.00 L753.53,142.00 L754.70,142.00 L755.87,142.00 L757.04,142.00 L758.21,142.00 L759.37,142.00 L760.54,142.00 L761.71,142.00 L762.88,142.00 L764.05,142.00 L765.22,142.00 L766.39,142.00 L767.56,142.00 L768.73,142.00 L769.90,142.00 L771.07,142.00 L772.24,142.00 L773.41,142.00 L774.58,142.00 L775.75,142.00 L776.91,142.00 L778.08,142.00 L779.25,142.00 L780.42,142.00 L781.59,142.00 L782.76,142.00 L783.93,142.00 L785.10,142.00 L786.27,142.00 L787.44,142.00 L788.61,142.00 L789.78,142.00 L790.95,142.00 L792.12,142.00 L793.29,142.00 L794.45,142.00 L795.62,142.00 L796.79,142.00 L797.96,142.00 L799.13,142.00 L800.30,142.00 L801.47,142.00 L802.64,142.00 L803.81,142.00 L804.98,142.00 L806.15,142.00 L807.32,142.00 L808.49,142.00 L809.66,142.00 L810.83,142.00 L811.99,142.00 L813.16,142.00 L814.33,142.00 L815.50,142.00 L816.67,142.00 L817.84,142.00 L819.01,142.00 L820.18,142.00 L821.35,142.00 L822.52,142.00 L823.69,142.00 L824.86,142.00 L826.03,142.00 L827.20,142.00 L828.37,142.00 L829.53,142.00 L830.70,142.00 L831.87,142.00 L833.04,142.00 L834.21,142.00 L835.38,142.00 L836.55,142.00 L837.72,142.00 L838.89,142.00 L840.06,142.00 L841.23,142.00 L842.40,142.00 L843.57,142.00 L844.74,142.00 L845.91,142.00 L847.07,142.00 L848.24,142.00 L849.41,142.00 L850.58,142.00 L851.75,142.00 L852.92,142.00 L854.09,142.00 L855.26,142.00 L856.43,142.00 L857.60,142.00 L858.77,142.00 L859.94,142.00 L861.11,142.00 L862.28,142.00 L863.45,142.00 L864.61,142.00 L865.78,142.00 L866.95,142.00 L868.12,142.00 L869.29,142.00 L870.46,142.00 L871.63,142.00 L872.80,142.00 L873.97,142.00 L875.14,142.00 L876.31,142.00 L877.48,142.00 L878.65,142.00 L879.82,142.00 L880.99,142.00 L882.15,142.00 L883.32,142.00 L884.49,142.00 L885.66,142.00 L886.83,142.00 L888.00,142.00 L889.17,142.00 L890.34,142.00 L891.51,142.00 L892.68,142.00 L893.85,142.00 L895.02,142.00 L896.19,142.00 L897.36,142.00 L898.53,142.00 L899.69,142.00 L900.86,142.00 L902.03,142.00 L903.20,142.00 L904.37,142.00 L905.54,142.00 L906.71,142.00 L907.88,142.00 L909.05,142.00 L910.22,142.00 L911.39,142.00 L912.56,142.00 L913.73,142.00 L914.90,142.00 L916.07,142.00 L917.23,142.00 L918.40,142.00 L919.57,142.00 L920.74,142.00 L921.91,142.00 L923.08,142.00 L924.25,142.00 L925.42,142.00 L926.59,142.00 L927.76,142.00 L928.93,142.00 L930.10,142.00 L931.27,142.00 L932.44,142.00 L933.61,142.00 L934.77,142.00 L935.94,142.00 L937.11,142.00 L938.28,142.00 L939.45,142.00 L940.62,142.00 L941.79,142.00 L942.96,142.00 L944.13,142.00 L945.30,142.00 L946.47,142.00 L947.64,142.00 L948.81,142.00 L949.98,142.00 L951.15,142.00 L952.31,142.00 L953.48,142.00 L954.65,142.00 L955.82,142.00 L956.99,142.00 L958.16,142.00 L959.33,142.00 L960.50,142.00" fill="none" stroke="#f6b26b" stroke-width="2" stroke-linejoin="miter" stroke-miterlimit="10.0"/></g></svg></body></html>
